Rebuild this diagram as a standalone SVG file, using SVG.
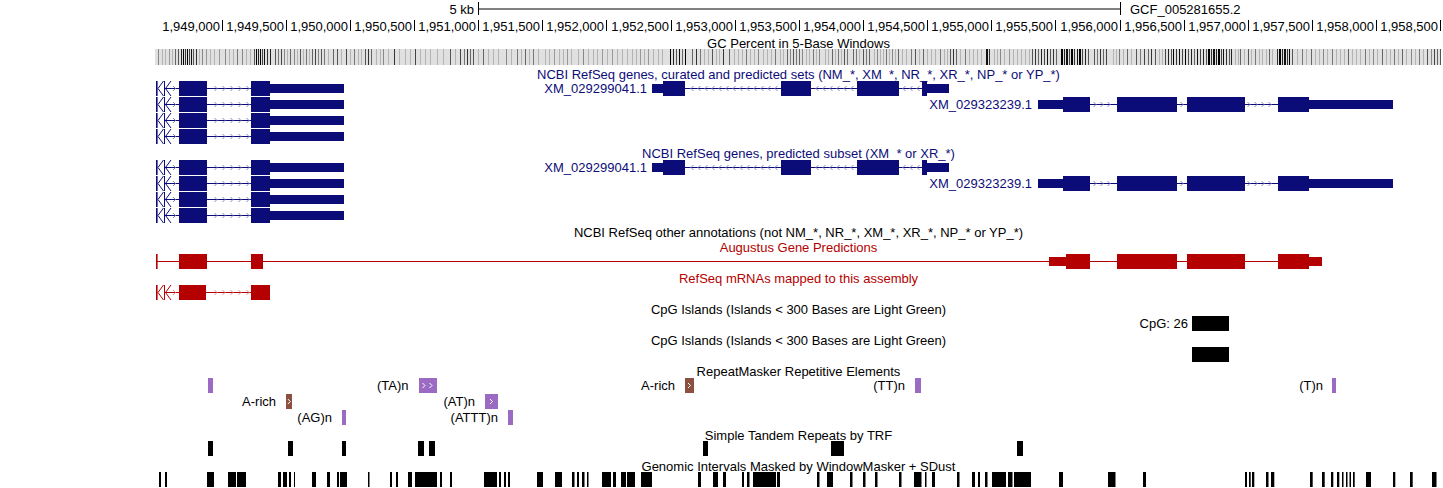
<svg xmlns="http://www.w3.org/2000/svg" xmlns:xlink="http://www.w3.org/1999/xlink" width="1443" height="488" viewBox="0 0 1443 488">
<style>
.t{font-family:"Liberation Sans",Arial,Helvetica,sans-serif;font-size:13px;fill:#000}
.c{text-anchor:middle}
.e{text-anchor:end}
.nvt{fill:#0c0c78}
.rdt{fill:#b40000}
.nv{fill:#0c0c78}
.rd{fill:#b40000}
.nvl{stroke:#0c0c78;stroke-width:1;fill:none}
.rdl{stroke:#b40000;stroke-width:1;fill:none}
.nvc{stroke:#8a8ac0;stroke-width:1;fill:none}
.rdc{stroke:#e89090;stroke-width:1;fill:none}
.blk{fill:#000}
.pur{fill:#9b6bc4}
.brn{fill:#8c5040}
.wch{stroke:#fff;stroke-width:1;fill:none}
.rul{stroke:#000;stroke-width:1;fill:none}
</style>
<defs>
<g id="txLeft">
<rect x="156" y="0" width="1.6" height="15" class="nv"/>
<path class="nvl" d="M163.5 0L158 7.5L163.5 15M164.5 0V15M171 0L165.5 7.5L171 15M164.5 7.5H179M207 7.5H251"/>
<path class="nvc" d="M173 5l2.5 2.5l-2.5 2.5M214.5 5l2.5 2.5l-2.5 2.5M222.5 5l2.5 2.5l-2.5 2.5M230.5 5l2.5 2.5l-2.5 2.5M238.5 5l2.5 2.5l-2.5 2.5M246.5 5l2.5 2.5l-2.5 2.5"/>
<rect x="179" y="0" width="28" height="15" class="nv"/>
<rect x="251" y="0" width="19" height="15" class="nv"/>
<rect x="270" y="3" width="74" height="9" class="nv"/>
</g>
<g id="txMid">
<path class="nvl" d="M685 7.5H781M811 7.5H857M899 7.5H922"/>
<path class="nvc" d="M693.5 5l-2.5 2.5l2.5 2.5M700.5 5l-2.5 2.5l2.5 2.5M707.5 5l-2.5 2.5l2.5 2.5M714.5 5l-2.5 2.5l2.5 2.5M721.5 5l-2.5 2.5l2.5 2.5M728.5 5l-2.5 2.5l2.5 2.5M735.5 5l-2.5 2.5l2.5 2.5M742.5 5l-2.5 2.5l2.5 2.5M749.5 5l-2.5 2.5l2.5 2.5M756.5 5l-2.5 2.5l2.5 2.5M763.5 5l-2.5 2.5l2.5 2.5M770.5 5l-2.5 2.5l2.5 2.5M777.5 5l-2.5 2.5l2.5 2.5M818.5 5l-2.5 2.5l2.5 2.5M825.5 5l-2.5 2.5l2.5 2.5M832.5 5l-2.5 2.5l2.5 2.5M839.5 5l-2.5 2.5l2.5 2.5M846.5 5l-2.5 2.5l2.5 2.5M853.5 5l-2.5 2.5l2.5 2.5M905.5 5l-2.5 2.5l2.5 2.5M912.5 5l-2.5 2.5l2.5 2.5M919.5 5l-2.5 2.5l2.5 2.5"/>
<rect x="652" y="3" width="11" height="9" class="nv"/>
<rect x="663" y="0" width="22" height="15" class="nv"/>
<rect x="781" y="0" width="30" height="15" class="nv"/>
<rect x="857" y="0" width="42" height="15" class="nv"/>
<rect x="922" y="0" width="5" height="15" class="nv"/>
<rect x="927" y="3" width="22" height="9" class="nv"/>
</g>
<g id="txRight">
<path class="nvl" d="M1090 7.5H1117M1177 7.5H1187M1245 7.5H1278"/>
<path class="nvc" d="M1093.5 5l2.5 2.5l-2.5 2.5M1100.5 5l2.5 2.5l-2.5 2.5M1107.5 5l2.5 2.5l-2.5 2.5M1180.5 5l2.5 2.5l-2.5 2.5M1247.5 5l2.5 2.5l-2.5 2.5M1254.5 5l2.5 2.5l-2.5 2.5M1261.5 5l2.5 2.5l-2.5 2.5M1268.5 5l2.5 2.5l-2.5 2.5"/>
<rect x="1038" y="3" width="25" height="9" class="nv"/>
<rect x="1063" y="0" width="27" height="15" class="nv"/>
<rect x="1117" y="0" width="60" height="15" class="nv"/>
<rect x="1187" y="0" width="58" height="15" class="nv"/>
<rect x="1278" y="0" width="31" height="15" class="nv"/>
<rect x="1309" y="3" width="84" height="9" class="nv"/>
</g>
</defs>
<rect x="0" y="0" width="1443" height="488" fill="#fff"/>

<g id="ruler">
<path class="rul" d="M478.5 2V15M478.5 9H1120M1120.5 2V15"/>
<text class="t e" x="474" y="14">5 kb</text>
<text class="t" x="1130" y="14">GCF_005281655.2</text>
<path class="rul" d="M222.5 20V31M286.5 20V31M350.5 20V31M414.5 20V31M478.5 20V31M542.5 20V31M606.5 20V31M671.5 20V31M735.5 20V31M799.5 20V31M863.5 20V31M927.5 20V31M991.5 20V31M1055.5 20V31M1120.5 20V31M1184.5 20V31M1248.5 20V31M1312.5 20V31M1376.5 20V31M1440.5 20V31"/>
<text class="t e" x="220" y="31">1,949,000</text>
<text class="t e" x="284" y="31">1,949,500</text>
<text class="t e" x="348" y="31">1,950,000</text>
<text class="t e" x="412" y="31">1,950,500</text>
<text class="t e" x="476" y="31">1,951,000</text>
<text class="t e" x="540" y="31">1,951,500</text>
<text class="t e" x="604" y="31">1,952,000</text>
<text class="t e" x="669" y="31">1,952,500</text>
<text class="t e" x="733" y="31">1,953,000</text>
<text class="t e" x="797" y="31">1,953,500</text>
<text class="t e" x="861" y="31">1,954,000</text>
<text class="t e" x="925" y="31">1,954,500</text>
<text class="t e" x="989" y="31">1,955,000</text>
<text class="t e" x="1053" y="31">1,955,500</text>
<text class="t e" x="1118" y="31">1,956,000</text>
<text class="t e" x="1182" y="31">1,956,500</text>
<text class="t e" x="1246" y="31">1,957,000</text>
<text class="t e" x="1310" y="31">1,957,500</text>
<text class="t e" x="1374" y="31">1,958,000</text>
<text class="t e" x="1438" y="31">1,958,500</text>
</g>

<g id="gc-percent">
<text class="t c" x="798.5" y="47.5">GC Percent in 5-Base Windows</text>
<rect x="155" y="49" width="1286" height="16" fill="#e0e0e0"/>
<path stroke="#b4b4b4" d="M162.5 49v16M165.5 49v16M172.5 49v16M199.5 49v16M210.5 49v16M214.5 49v16M229.5 49v16M233.5 49v16M246.5 49v16M250.5 49v16M287.5 49v16M297.5 49v16M303.5 49v16M309.5 49v16M328.5 49v16M341.5 49v16M350.5 49v16M358.5 49v16M361.5 49v16M376.5 49v16M380.5 49v16M388.5 49v16M399.5 49v16M405.5 49v16M410.5 49v16M420.5 49v16M425.5 49v16M430.5 49v16M437.5 49v16M443.5 49v16M455.5 49v16M478.5 49v16M488.5 49v16M493.5 49v16M498.5 49v16M511.5 49v16M521.5 49v16M529.5 49v16M538.5 49v16M545.5 49v16M549.5 49v16M559.5 49v16M563.5 49v16M571.5 49v16M578.5 49v16M588.5 49v16M593.5 49v16M597.5 49v16M607.5 49v16M617.5 49v16M622.5 49v16M627.5 49v16M632.5 49v16M636.5 49v16M644.5 49v16M653.5 49v16M658.5 49v16M662.5 49v16M704.5 49v16M708.5 49v16M716.5 49v16M719.5 49v16M734.5 49v16M738.5 49v16M742.5 49v16M750.5 49v16M754.5 49v16M763.5 49v16M767.5 49v16M771.5 49v16M780.5 49v16M783.5 49v16M806.5 49v16M809.5 49v16M816.5 49v16M825.5 49v16M828.5 49v16M835.5 49v16M841.5 49v16M859.5 49v16M874.5 49v16M880.5 49v16M883.5 49v16M889.5 49v16M895.5 49v16M902.5 49v16M906.5 49v16M919.5 49v16M927.5 49v16M931.5 49v16M935.5 49v16M944.5 49v16M947.5 49v16M960.5 49v16M969.5 49v16M973.5 49v16M977.5 49v16M981.5 49v16M994.5 49v16M997.5 49v16M1004.5 49v16M1013.5 49v16M1017.5 49v16M1021.5 49v16M1025.5 49v16M1029.5 49v16M1113.5 49v16M1116.5 49v16M1123.5 49v16M1131.5 49v16M1159.5 49v16M1162.5 49v16M1235.5 49v16M1238.5 49v16M1244.5 49v16M1251.5 49v16M1259.5 49v16M1262.5 49v16M1266.5 49v16M1272.5 49v16M1297.5 49v16M1306.5 49v16M1315.5 49v16M1319.5 49v16M1327.5 49v16M1336.5 49v16M1340.5 49v16M1344.5 49v16M1352.5 49v16M1356.5 49v16M1360.5 49v16M1369.5 49v16M1377.5 49v16M1386.5 49v16M1390.5 49v16M1398.5 49v16M1406.5 49v16M1415.5 49v16M1423.5 49v16"/>
<path stroke="#000" d="M183.5 49v16M187.5 49v16M256.5 49v16M260.5 49v16M670.5 49v16M685.5 49v16M1061.5 49v16M1062.5 49v16M1071.5 49v16M1072.5 49v16M1079.5 49v16M1080.5 49v16M1173.5 49v16M1185.5 49v16M1208.5 49v16M1209.5 49v16M1218.5 49v16M1219.5 49v16M1279.5 49v16M1280.5 49v16M1289.5 49v16"/>
<path stroke="#111" d="M191.5 49v16M264.5 49v16M679.5 49v16M986.5 49v16M987.5 49v16M1047.5 49v16M1066.5 49v16M1067.5 49v16M1077.5 49v16M1179.5 49v16M1197.5 49v16M1213.5 49v16M1214.5 49v16M1223.5 49v16M1284.5 49v16M1285.5 49v16"/>
<path stroke="#222" d="M181.5 49v16M258.5 49v16M270.5 49v16M673.5 49v16M1041.5 49v16M1064.5 49v16M1085.5 49v16M1168.5 49v16M1191.5 49v16M1203.5 49v16M1216.5 49v16M1231.5 49v16M1282.5 49v16"/>
<path stroke="#333" d="M185.5 49v16M196.5 49v16M267.5 49v16M368.5 49v16M394.5 49v16M467.5 49v16M696.5 49v16M723.5 49v16M953.5 49v16M989.5 49v16M1035.5 49v16M1053.5 49v16M1074.5 49v16M1100.5 49v16M1151.5 49v16M1176.5 49v16M1211.5 49v16M1226.5 49v16M1277.5 49v16M1287.5 49v16"/>
<path stroke="#444" d="M189.5 49v16M262.5 49v16M281.5 49v16M315.5 49v16M346.5 49v16M415.5 49v16M460.5 49v16M1044.5 49v16M1069.5 49v16M1082.5 49v16M1106.5 49v16M1144.5 49v16M1165.5 49v16M1182.5 49v16M1200.5 49v16M1221.5 49v16M1434.5 49v16"/>
<path stroke="#555" d="M178.5 49v16M193.5 49v16M254.5 49v16M275.5 49v16M300.5 49v16M321.5 49v16M337.5 49v16M365.5 49v16M450.5 49v16M473.5 49v16M676.5 49v16M712.5 49v16M793.5 49v16M844.5 49v16M863.5 49v16M915.5 49v16M950.5 49v16M1032.5 49v16M1050.5 49v16M1088.5 49v16M1094.5 49v16M1136.5 49v16M1155.5 49v16M1171.5 49v16M1188.5 49v16M1206.5 49v16M1229.5 49v16M1248.5 49v16M1292.5 49v16M1427.5 49v16M1440.5 49v16"/>
<path stroke="#666" d="M175.5 49v16M290.5 49v16M312.5 49v16M333.5 49v16M371.5 49v16M470.5 49v16M483.5 49v16M525.5 49v16M682.5 49v16M692.5 49v16M729.5 49v16M787.5 49v16M799.5 49v16M832.5 49v16M853.5 49v16M869.5 49v16M898.5 49v16M923.5 49v16M956.5 49v16M1038.5 49v16M1056.5 49v16M1103.5 49v16M1127.5 49v16M1148.5 49v16M1194.5 49v16M1240.5 49v16M1269.5 49v16M1311.5 49v16M1348.5 49v16M1382.5 49v16M1402.5 49v16M1437.5 49v16"/>
<path stroke="#777" d="M237.5 49v16M278.5 49v16M306.5 49v16M324.5 49v16M354.5 49v16M464.5 49v16M517.5 49v16M533.5 49v16M700.5 49v16M746.5 49v16M775.5 49v16M796.5 49v16M813.5 49v16M838.5 49v16M847.5 49v16M856.5 49v16M866.5 49v16M886.5 49v16M911.5 49v16M940.5 49v16M965.5 49v16M1097.5 49v16M1119.5 49v16M1140.5 49v16M1255.5 49v16M1302.5 49v16M1332.5 49v16M1365.5 49v16M1394.5 49v16M1419.5 49v16"/>
<path stroke="#888" d="M158.5 49v16M202.5 49v16M225.5 49v16M242.5 49v16M284.5 49v16M294.5 49v16M318.5 49v16M383.5 49v16M506.5 49v16M583.5 49v16M758.5 49v16M790.5 49v16M802.5 49v16M819.5 49v16M877.5 49v16M892.5 49v16M1000.5 49v16M1323.5 49v16M1373.5 49v16M1411.5 49v16M1431.5 49v16"/>
<path stroke="#999" d="M169.5 49v16M206.5 49v16M219.5 49v16M554.5 49v16M567.5 49v16M602.5 49v16M612.5 49v16M640.5 49v16M648.5 49v16M1009.5 49v16"/>
</g>

<g id="refseq-curated">
<text class="t c nvt" x="798.5" y="78.5">NCBI RefSeq genes, curated and predicted sets (NM_*, XM_*, NR_*, XR_*, NP_* or YP_*)</text>
<g id="curated-left-1"><use xlink:href="#txLeft" href="#txLeft" y="81"/></g>
<g id="curated-left-2"><use xlink:href="#txLeft" href="#txLeft" y="97"/></g>
<g id="curated-left-3"><use xlink:href="#txLeft" href="#txLeft" y="113"/></g>
<g id="curated-left-4"><use xlink:href="#txLeft" href="#txLeft" y="129"/></g>
<g id="curated-XM_029299041">
<text class="t e nvt" x="647" y="92.5">XM_029299041.1</text>
<use xlink:href="#txMid" href="#txMid" y="81"/>
</g>
<g id="curated-XM_029323239">
<text class="t e nvt" x="1032" y="108.5">XM_029323239.1</text>
<use xlink:href="#txRight" href="#txRight" y="97"/>
</g>
</g>

<g id="refseq-predicted">
<text class="t c nvt" x="798.5" y="157.5">NCBI RefSeq genes, predicted subset (XM_* or XR_*)</text>
<g id="predicted-left-1"><use xlink:href="#txLeft" href="#txLeft" y="160"/></g>
<g id="predicted-left-2"><use xlink:href="#txLeft" href="#txLeft" y="176"/></g>
<g id="predicted-left-3"><use xlink:href="#txLeft" href="#txLeft" y="192"/></g>
<g id="predicted-left-4"><use xlink:href="#txLeft" href="#txLeft" y="208"/></g>
<g id="predicted-XM_029299041">
<text class="t e nvt" x="647" y="172">XM_029299041.1</text>
<use xlink:href="#txMid" href="#txMid" y="160"/>
</g>
<g id="predicted-XM_029323239">
<text class="t e nvt" x="1032" y="188">XM_029323239.1</text>
<use xlink:href="#txRight" href="#txRight" y="176"/>
</g>
</g>

<g id="refseq-other">
<text class="t c" x="798.5" y="236.5">NCBI RefSeq other annotations (not NM_*, NR_*, XM_*, XR_*, NP_* or YP_*)</text>
</g>

<g id="augustus">
<text class="t c rdt" x="798.5" y="251.5">Augustus Gene Predictions</text>
<path class="rdl" d="M157 261.5H1309"/>
<rect x="156" y="254" width="1.6" height="15" class="rd"/>
<rect x="179" y="254" width="28" height="15" class="rd"/>
<rect x="251" y="254" width="12" height="15" class="rd"/>
<rect x="1049" y="257" width="17" height="9" class="rd"/>
<rect x="1066" y="254" width="24" height="15" class="rd"/>
<rect x="1117" y="254" width="60" height="15" class="rd"/>
<rect x="1187" y="254" width="58" height="15" class="rd"/>
<rect x="1278" y="254" width="31" height="15" class="rd"/>
<rect x="1309" y="257" width="13" height="9" class="rd"/>
</g>

<g id="refseq-mrnas">
<text class="t c rdt" x="798.5" y="282.5">RefSeq mRNAs mapped to this assembly</text>
<g transform="translate(0,285)">
<rect x="156" y="0" width="1.6" height="15" class="rd"/>
<path class="rdl" d="M163.5 0L158 7.5L163.5 15M164.5 0V15M171 0L165.5 7.5L171 15M164.5 7.5H179M206 7.5H251"/>
<path class="rdc" d="M173 5l2.5 2.5l-2.5 2.5M214.5 5l2.5 2.5l-2.5 2.5M222.5 5l2.5 2.5l-2.5 2.5M230.5 5l2.5 2.5l-2.5 2.5M238.5 5l2.5 2.5l-2.5 2.5M246.5 5l2.5 2.5l-2.5 2.5"/>
<rect x="179" y="0" width="27" height="15" class="rd"/>
<rect x="251" y="0" width="19" height="15" class="rd"/>
</g>
</g>

<g id="cpg-islands-1">
<text class="t c" x="798.5" y="313.5">CpG Islands (Islands &lt; 300 Bases are Light Green)</text>
<text class="t e" x="1188" y="327.5">CpG: 26</text>
<rect x="1192" y="316" width="37" height="15" class="blk"/>
</g>

<g id="cpg-islands-2">
<text class="t c" x="798.5" y="344.5">CpG Islands (Islands &lt; 300 Bases are Light Green)</text>
<rect x="1192" y="347" width="37" height="15" class="blk"/>
</g>

<g id="repeatmasker">
<text class="t c" x="798.5" y="375.5">RepeatMasker Repetitive Elements</text>
<rect x="208" y="378" width="5" height="15" class="pur"/>
<text class="t e" x="408.5" y="389.5">(TA)n</text>
<rect x="419" y="378" width="18" height="15" class="pur"/>
<path class="wch" d="M422.5 383l2.5 2.5l-2.5 2.5M429.5 383l2.5 2.5l-2.5 2.5"/>
<text class="t e" x="675" y="389.5">A-rich</text>
<rect x="685" y="378" width="9" height="15" class="brn"/>
<path class="wch" d="M688 383l2.5 2.5l-2.5 2.5"/>
<text class="t e" x="905" y="389.5">(TT)n</text>
<rect x="915" y="378" width="6" height="15" class="pur"/>
<text class="t e" x="1323" y="389.5">(T)n</text>
<rect x="1332" y="378" width="4" height="15" class="pur"/>
<text class="t e" x="276" y="405.5">A-rich</text>
<rect x="286" y="394" width="6" height="15" class="brn"/>
<path class="wch" d="M287.8 399l2.5 2.5l-2.5 2.5"/>
<text class="t e" x="475" y="405.5">(AT)n</text>
<rect x="485" y="394" width="13" height="15" class="pur"/>
<path class="wch" d="M490 399l2.5 2.5l-2.5 2.5"/>
<text class="t e" x="332" y="421.5">(AG)n</text>
<rect x="342" y="410" width="4" height="15" class="pur"/>
<text class="t e" x="498" y="421.5">(ATTT)n</text>
<rect x="508" y="410" width="5" height="15" class="pur"/>
</g>

<g id="simple-repeats">
<text class="t c" x="798.5" y="439.5">Simple Tandem Repeats by TRF</text>
<rect x="208" y="441" width="5" height="15" class="blk"/>
<rect x="288" y="441" width="5" height="15" class="blk"/>
<rect x="342" y="441" width="4" height="15" class="blk"/>
<rect x="418" y="441" width="6" height="15" class="blk"/>
<rect x="429" y="441" width="6" height="15" class="blk"/>
<rect x="703" y="441" width="5" height="15" class="blk"/>
<rect x="831" y="441" width="13" height="15" class="blk"/>
<rect x="1017" y="441" width="6" height="15" class="blk"/>
</g>

<g id="windowmasker">
<text class="t c" x="798.5" y="470.5">Genomic Intervals Masked by WindowMasker + SDust</text>
<path class="blk" d="M159 472h2v15h-2zM165 472h2v15h-2zM207 472h7v15h-7zM228 472h8v15h-8zM237 472h9v15h-9zM278 472h3v15h-3zM283 472h4v15h-4zM289 472h2v15h-2zM294 472h1v15h-1zM312 472h4v15h-4zM327 472h3v15h-3zM337 472h2v15h-2zM340 472h7v15h-7zM368 472h1.5v15h-1.5zM390 472h2v15h-2zM396 472h2v15h-2zM408 472h4v15h-4zM415 472h22v15h-22zM440 472h2v15h-2zM450 472h2v15h-2zM484 472h13v15h-13zM499 472h2v15h-2zM504 472h2v15h-2zM508 472h2v15h-2zM537 472h6v15h-6zM555 472h7v15h-7zM572 472h2.5v15h-2.5zM577 472h2v15h-2zM582 472h2.5v15h-2.5zM587 472h1.5v15h-1.5zM602 472h9v15h-9zM613 472h3v15h-3zM621 472h5v15h-5zM627 472h8v15h-8zM641 472h11v15h-11zM698 472h3v15h-3zM713 472h5v15h-5zM723 472h3v15h-3zM742 472h2v15h-2zM747 472h2.5v15h-2.5zM753 472h23v15h-23zM777 472h3v15h-3zM817 472h2.5v15h-2.5zM827 472h6v15h-6zM850 472h2.5v15h-2.5zM863 472h2.5v15h-2.5zM875 472h2.5v15h-2.5zM899 472h2.5v15h-2.5zM914 472h7.5v15h-7.5zM925 472h1.5v15h-1.5zM932 472h3v15h-3zM957 472h2.5v15h-2.5zM972 472h3v15h-3zM978 472h2v15h-2zM985 472h2.5v15h-2.5zM992 472h14v15h-14zM1008 472h4.5v15h-4.5zM1014 472h17v15h-17zM1059 472h4v15h-4zM1108 472h7.5v15h-7.5zM1143 472h3v15h-3zM1245 472h2v15h-2zM1249 472h1.7v15h-1.7zM1252 472h2.3v15h-2.3zM1266 472h2.5v15h-2.5zM1271 472h3.3v15h-3.3zM1310 472h2.7v15h-2.7zM1322 472h2.7v15h-2.7zM1331 472h2.3v15h-2.3zM1337 472h2.3v15h-2.3zM1342 472h1.5v15h-1.5zM1346 472h1.5v15h-1.5zM1349.5 472h1.5v15h-1.5zM1353 472h1.7v15h-1.7zM1366 472h5v15h-5zM1393 472h2.3v15h-2.3zM1410 472h2.7v15h-2.7zM1432 472h4.5v15h-4.5z"/>
</g>
</svg>
